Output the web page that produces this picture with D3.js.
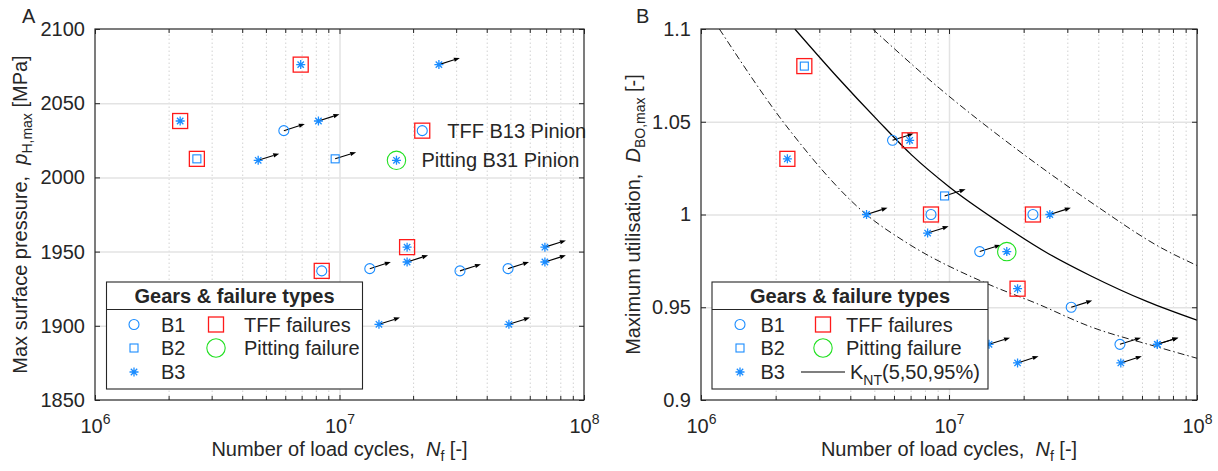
<!DOCTYPE html>
<html>
<head>
<meta charset="utf-8">
<script src="https://cdn.jsdelivr.net/npm/d3@7"></script>
<style>
    body { margin: 0; background: #fff; }
    svg text { font-family: "Liberation Sans", Arial, Helvetica, sans-serif; fill: #262626; white-space: pre; }
</style>
</head>
<body>
<div class="chart-container"></div>
<script>
// Data (same test order in both panels)
const cycles = [6.94e6, 2.55e7, 2.23e6, 2.61e6, 5.92e6, 8.2e6, 4.65e6, 9.6e6, 2.18e7, 1.71e7,
    8.46e6, 1.33e7, 1.89e7, 1.89e7, 3.11e7, 4.89e7, 6.92e7, 6.92e7, 1.45e7, 4.93e7]
const gears = ['B3', 'B3', 'B3', 'B2', 'B1', 'B3', 'B3', 'B2', 'B1', 'B3',
    'B1', 'B1', 'B3', 'B3', 'B1', 'B1', 'B3', 'B3', 'B3', 'B3']
// 'TFF' = tooth flank fracture, 'pit' = pitting, '' = run-out (arrow)
const failures = ['TFF', '', 'TFF', 'TFF', '', '', '', '', 'TFF', 'pit',
    'TFF', '', 'TFF', '', '', '', '', '', '', '']
const pressure = [2076, 2076, 2038, 2012.5, 2031.5, 2038, 2011.5, 2012.5, 2031.5, 2011.5,
    1937, 1938.5, 1953, 1943, 1937, 1938.5, 1953, 1943, 1901, 1901]
const utilisation = [1.04, 1.0, 1.03, 1.08, 1.04, 0.99, 1.0, 1.01, 1.0, 0.98,
    1.0, 0.98, 0.96, 0.92, 0.95, 0.93, 0.93, 0.93, 0.93, 0.92]
const annotations = [{i: 8, text: 'TFF B13 Pinion'}, {i: 9, text: 'Pitting B31 Pinion'}]

// K_NT curves
const kntMidCycles = [2.39e6, 3.55e6, 5.14e6, 7.08e6, 1e7, 1.585e7, 2.51e7, 3.72e7, 6.31e7, 1e8]
const kntMidValues = [1.100, 1.074, 1.051, 1.032, 1.015, 0.996, 0.979, 0.967, 0.953, 0.943]
const kntLowCycles = [1.186e6, 2.29e6, 4.64e6, 6.71e6, 1.436e7, 2.26e7, 3.72e7, 6.76e7, 1e8]
const kntLowValues = [1.100, 1.045, 1.000, 0.985, 0.9625, 0.952, 0.9395, 0.929, 0.9225]
const kntHighCycles = [4.92e6, 9.16e6, 1.884e7, 3.89e7, 7.18e7, 1e8]
const kntHighValues = [1.100, 1.068, 1.035, 1.005, 0.982, 0.9725]

// ticks
const decadeTicks = [1e6, 1e7, 1e8]
const minorTicks = [2e6, 3e6, 4e6, 5e6, 6e6, 7e6, 8e6, 9e6, 2e7, 3e7, 4e7, 5e7, 6e7, 7e7, 8e7, 9e7]
const pressureTicks = [1850, 1900, 1950, 2000, 2050, 2100]
const utilisationTicks = [0.9, 0.95, 1, 1.05, 1.1]
const gearLabels = ['B1', 'B2', 'B3']

const BLUE = '#1a8cff', RED = '#ff1a1a', GREEN = '#22e022', INK = '#262626'

const svg = d3.select('.chart-container')
    .append('svg')
    .attr('width', 1218)
    .attr('height', 471)

function gearMarker(g, gear, px, py) {
    if (gear === 'B1') {
        g.append('circle').attr('cx', px).attr('cy', py).attr('r', 5)
            .attr('fill', 'none').attr('stroke', BLUE).attr('stroke-width', 1.1)
    } else if (gear === 'B2') {
        g.append('rect').attr('x', px - 4).attr('y', py - 4).attr('width', 8).attr('height', 8)
            .attr('fill', 'none').attr('stroke', BLUE).attr('stroke-width', 1.1)
    } else {
        g.append('path')
            .attr('d', `M${px - 4.5},${py}H${px + 4.5}M${px},${py - 4.5}V${py + 4.5}` +
                `M${px - 3.2},${py - 3.2}L${px + 3.2},${py + 3.2}M${px - 3.2},${py + 3.2}L${px + 3.2},${py - 3.2}`)
            .attr('stroke', BLUE).attr('stroke-width', 1.3).attr('fill', 'none')
    }
}

function failMarker(g, fail, px, py) {
    if (fail === 'TFF') {
        g.append('rect').attr('x', px - 7.5).attr('y', py - 7.5).attr('width', 15).attr('height', 15)
            .attr('fill', 'none').attr('stroke', RED).attr('stroke-width', 1.3)
    } else if (fail === 'pit') {
        g.append('circle').attr('cx', px).attr('cy', py).attr('r', 9.2)
            .attr('fill', 'none').attr('stroke', GREEN).attr('stroke-width', 1.1)
    }
}

function runoutArrow(g, px, py) {
    const x2 = px + 21, y2 = py - 6.7
    const a = Math.atan2(y2 - py, x2 - px)
    const bx = x2 - 6 * Math.cos(a), by = y2 - 6 * Math.sin(a)
    const nx = -Math.sin(a) * 2.2, ny = Math.cos(a) * 2.2
    g.append('line').attr('x1', px).attr('y1', py).attr('x2', bx).attr('y2', by)
        .attr('stroke', '#000').attr('stroke-width', 1.1)
    g.append('path').attr('d', `M${x2},${y2}L${bx + nx},${by + ny}L${bx - nx},${by - ny}Z`)
        .attr('fill', '#000')
}

function drawPanel(cfg) {
    const g = svg.append('g')
    const w = cfg.right - cfg.left
    const h = cfg.bottom - cfg.top

    const xScale = d3.scaleLog().domain([1e6, 1e8]).range([cfg.left, cfg.right])
    const yScale = d3.scaleLinear().domain(cfg.yDomain).range([cfg.bottom, cfg.top])

// Grid
    g.append('g')
        .attr('transform', `translate(0,${cfg.bottom})`)
        .call(d3.axisBottom(xScale).tickValues(minorTicks).tickSize(-h).tickFormat(''))
        .call(a => a.select('.domain').remove())
        .selectAll('line')
        .attr('stroke', '#d2d2d2')
        .attr('stroke-dasharray', '1.5,2.5')

    g.append('g')
        .attr('transform', `translate(0,${cfg.bottom})`)
        .call(d3.axisBottom(xScale).tickValues([1e7]).tickSize(-h).tickFormat(''))
        .call(a => a.select('.domain').remove())
        .selectAll('line')
        .attr('stroke', '#e3e3e3')
        .attr('stroke-width', 1.5)

    g.append('g')
        .attr('transform', `translate(${cfg.left},0)`)
        .call(d3.axisLeft(yScale).tickValues(cfg.yTicks.slice(1, -1)).tickSize(-w).tickFormat(''))
        .call(a => a.select('.domain').remove())
        .selectAll('line')
        .attr('stroke', '#e3e3e3')
        .attr('stroke-width', 1.5)

// K_NT curves
    if (cfg.curves) {
        svg.append('clipPath').attr('id', 'clip-' + cfg.letter)
            .append('rect').attr('x', cfg.left).attr('y', cfg.top).attr('width', w).attr('height', h)
        const line = d3.line()
            .x(d => xScale(d[0]))
            .y(d => yScale(d[1]))
            .curve(d3.curveMonotoneX)
        cfg.curves.forEach(c => {
            g.append('path')
                .attr('clip-path', `url(#clip-${cfg.letter})`)
                .attr('d', line(d3.zip(c.cycles, c.values)))
                .attr('fill', 'none')
                .attr('stroke', '#000')
                .attr('stroke-width', c.dash ? 0.9 : 1.3)
                .attr('stroke-dasharray', c.dash ? '7,3,1.5,3' : null)
        })
    }

// Points
    const marks = g.append('g')
    cycles.forEach((n, i) => {
        const px = xScale(n), py = yScale(cfg.values[i])
        if (failures[i] === '') runoutArrow(marks, px, py)
    })
    cycles.forEach((n, i) => {
        const px = xScale(n), py = yScale(cfg.values[i])
        gearMarker(marks, gears[i], px, py)
        failMarker(marks, failures[i], px, py)
    })

    if (cfg.annotate) {
        annotations.forEach(a => {
            g.append('text')
                .attr('x', xScale(cycles[a.i]) + 25)
                .attr('y', yScale(cfg.values[a.i]))
                .attr('dy', '0.35em')
                .attr('font-size', 20)
                .text(a.text)
        })
    }

// Axes
    const styleAxis = a => {
        a.select('.domain').remove()
        a.attr('font-family', null).attr('font-size', 20)
        a.selectAll('line').attr('stroke', INK).attr('stroke-width', 1)
    }
    const xAxisGroup = g.append('g')
        .attr('transform', `translate(0,${cfg.bottom})`)
        .call(d3.axisBottom(xScale).tickValues(decadeTicks).tickSize(-5).tickFormat(''))
        .call(styleAxis)
    xAxisGroup.selectAll('.tick text').each(function (d) {
        const t = d3.select(this).attr('y', 33).attr('dy', null).attr('fill', INK)
        t.append('tspan').text('10')
        t.append('tspan').attr('dy', -9).attr('font-size', 14).text(Math.round(Math.log10(d)))
    })
    g.append('g')
        .attr('transform', `translate(0,${cfg.bottom})`)
        .call(d3.axisBottom(xScale).tickValues(minorTicks).tickSize(-4).tickFormat(''))
        .call(styleAxis)
    g.append('g')
        .attr('transform', `translate(0,${cfg.top})`)
        .call(d3.axisTop(xScale).tickValues(decadeTicks).tickSize(-5).tickFormat(''))
        .call(styleAxis)
    g.append('g')
        .attr('transform', `translate(0,${cfg.top})`)
        .call(d3.axisTop(xScale).tickValues(minorTicks).tickSize(-4).tickFormat(''))
        .call(styleAxis)
    g.append('g')
        .attr('transform', `translate(${cfg.left},0)`)
        .call(d3.axisLeft(yScale).tickValues(cfg.yTicks).tickSize(-5).tickPadding(10).tickFormat(d => d))
        .call(styleAxis)
        .selectAll('text').attr('fill', INK)
    g.append('g')
        .attr('transform', `translate(${cfg.right},0)`)
        .call(d3.axisRight(yScale).tickValues(cfg.yTicks).tickSize(-5).tickFormat(''))
        .call(styleAxis)

    g.append('rect')
        .attr('x', cfg.left).attr('y', cfg.top).attr('width', w).attr('height', h)
        .attr('fill', 'none').attr('stroke', INK).attr('stroke-width', 1.2)

// Labels
    const xl = g.append('text')
        .attr('x', (cfg.left + cfg.right) / 2)
        .attr('y', 456)
        .attr('text-anchor', 'middle')
        .attr('font-size', 20)
    xl.append('tspan').text('Number of load cycles,  ')
    xl.append('tspan').attr('font-style', 'italic').text('N')
    xl.append('tspan').attr('dy', 5).attr('font-size', 14).text('f')
    xl.append('tspan').attr('dy', -5).text(' [-]')

    const yl = g.append('text')
        .attr('transform', `translate(${cfg.ylabelX},${(cfg.top + cfg.bottom) / 2}) rotate(-90)`)
        .attr('text-anchor', 'middle')
        .attr('font-size', 20)
    yl.append('tspan').text(cfg.ylabel[0])
    yl.append('tspan').attr('font-style', 'italic').text(cfg.ylabel[1])
    yl.append('tspan').attr('dy', 5).attr('font-size', 14).text(cfg.ylabel[2])
    yl.append('tspan').attr('dy', -5).text(cfg.ylabel[3])

    g.append('text')
        .attr('x', cfg.letterX)
        .attr('y', 23)
        .attr('font-size', 20)
        .attr('fill', '#000')
        .text(cfg.letter)

// Legend
    const L = cfg.legend
    const lg = g.append('g')
    lg.append('rect')
        .attr('x', L.x).attr('y', L.y).attr('width', L.w).attr('height', L.h)
        .attr('fill', '#fff').attr('stroke', INK).attr('stroke-width', 1.1)
    lg.append('line')
        .attr('x1', L.x).attr('x2', L.x + L.w).attr('y1', L.sep).attr('y2', L.sep)
        .attr('stroke', INK).attr('stroke-width', 1.1)
    lg.append('text')
        .attr('x', L.x + L.w / 2).attr('y', (L.y + L.sep) / 2)
        .attr('dy', '0.35em')
        .attr('text-anchor', 'middle')
        .attr('font-size', 20)
        .attr('font-weight', 'bold')
        .attr('fill', '#000')
        .text('Gears & failure types')

    gearLabels.forEach((lab, i) => {
        gearMarker(lg, lab, L.m1, L.rows[i])
        lg.append('text').attr('x', L.t1).attr('y', L.rows[i]).attr('dy', '0.35em')
            .attr('font-size', 20).text(lab)
    })
    failMarker(lg, 'TFF', L.m2, L.rows[0])
    lg.append('text').attr('x', L.t2).attr('y', L.rows[0]).attr('dy', '0.35em')
        .attr('font-size', 20).text('TFF failures')
    failMarker(lg, 'pit', L.m2, L.rows[1])
    lg.append('text').attr('x', L.t2).attr('y', L.rows[1]).attr('dy', '0.35em')
        .attr('font-size', 20).text(L.pitLabel)
    if (L.knt) {
        lg.append('line')
            .attr('x1', L.knt[0]).attr('x2', L.knt[1]).attr('y1', L.rows[2]).attr('y2', L.rows[2])
            .attr('stroke', '#000').attr('stroke-width', 1.1)
        const kt = lg.append('text').attr('x', L.knt[2]).attr('y', L.rows[2]).attr('dy', '0.35em')
            .attr('font-size', 20)
        kt.append('tspan').text('K')
        kt.append('tspan').attr('dy', 6).attr('font-size', 14).text('NT')
        kt.append('tspan').attr('dy', -6).text('(5,50,95%)')
    }
}

drawPanel({
    letter: 'A', letterX: 22,
    left: 95, right: 584, top: 29, bottom: 400,
    yDomain: [1850, 2100], yTicks: pressureTicks,
    values: pressure,
    annotate: true,
    ylabelX: 27,
    ylabel: ['Max surface pressure,  ', 'p', 'H,max', ' [MPa]'],
    legend: {x: 106.5, y: 282, w: 256, h: 107, sep: 309.5, rows: [324.5, 348, 372],
        m1: 134, t1: 161, m2: 216, t2: 244, pitLabel: 'Pitting failure'}
})

drawPanel({
    letter: 'B', letterX: 636,
    left: 701, right: 1197, top: 29, bottom: 400,
    yDomain: [0.9, 1.1], yTicks: utilisationTicks,
    values: utilisation,
    annotate: false,
    ylabelX: 640,
    ylabel: ['Maximum utilisation,  ', 'D', 'BO,max', ' [-]'],
    curves: [
        {cycles: kntLowCycles, values: kntLowValues, dash: true},
        {cycles: kntMidCycles, values: kntMidValues, dash: false},
        {cycles: kntHighCycles, values: kntHighValues, dash: true}
    ],
    legend: {x: 712, y: 282, w: 276, h: 107, sep: 309.5, rows: [324.5, 348, 372],
        m1: 740, t1: 760.5, m2: 823, t2: 846, pitLabel: 'Pitting failure', knt: [801, 845, 850]}
})
</script>
</body>
</html>
